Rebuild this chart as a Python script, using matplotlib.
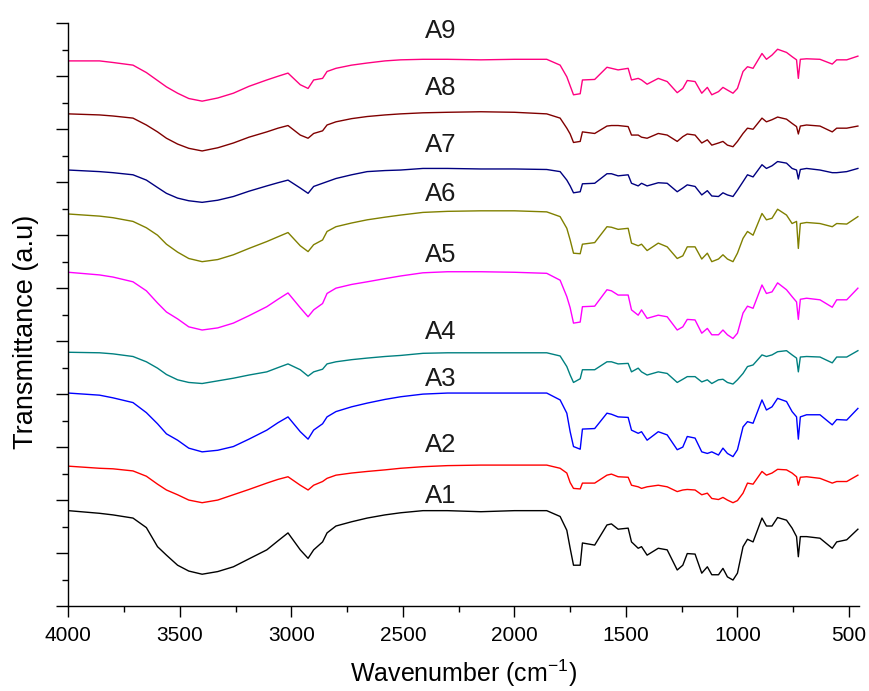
import matplotlib
matplotlib.use("Agg")
import matplotlib.pyplot as plt
from matplotlib.ticker import MultipleLocator

# FTIR spectra of samples A1-A9, stacked with a vertical offset (arbitrary units)
wavenumber = [4000, 3860, 3800, 3710, 3650, 3600, 3560, 3510, 3460, 3400,
              3330, 3260, 3190, 3110, 3060, 3015, 2960, 2925, 2900, 2860,
              2840, 2800, 2730, 2660, 2580, 2510, 2410, 2300, 2150, 2000,
              1855,
              1795, 1765, 1750, 1735, 1705, 1695, 1640, 1585, 1565, 1535,
              1490, 1475, 1445, 1430, 1405, 1355, 1315, 1270, 1245, 1225,
              1190, 1160, 1135, 1115, 1085, 1065, 1045, 1020, 1000, 975,
              955, 930, 890, 870, 845, 820, 780, 755, 735, 727,
              718, 690, 630, 575, 555, 510, 460]

a1 = [1.80, 1.75, 1.72, 1.66, 1.48, 1.12, 0.96, 0.77, 0.66, 0.60,
      0.65, 0.74, 0.89, 1.06, 1.23, 1.38, 1.06, 0.90, 1.06, 1.21,
      1.38, 1.51, 1.59, 1.66, 1.72, 1.76, 1.80, 1.80, 1.78, 1.80,
      1.80,
      1.69, 1.43, 1.09, 0.77, 0.77, 1.19, 1.15, 1.53, 1.55, 1.45,
      1.47, 1.21, 1.09, 1.12, 0.96, 1.09, 1.06, 0.68, 0.77, 0.99,
      0.98, 0.62, 0.74, 0.59, 0.59, 0.71, 0.55, 0.49, 0.62, 1.12,
      1.26, 1.21, 1.66, 1.51, 1.51, 1.67, 1.62, 1.47, 1.31, 0.93,
      1.31, 1.31, 1.28, 1.09, 1.21, 1.25, 1.45]
a2 = [2.64, 2.60, 2.59, 2.55, 2.45, 2.30, 2.19, 2.10, 2.00, 1.95,
      2.00, 2.10, 2.20, 2.32, 2.39, 2.44, 2.28, 2.19, 2.28, 2.35,
      2.41, 2.47, 2.51, 2.54, 2.57, 2.60, 2.63, 2.65, 2.66, 2.66,
      2.66,
      2.60, 2.51, 2.33, 2.22, 2.21, 2.32, 2.32, 2.47, 2.49, 2.44,
      2.43, 2.28, 2.25, 2.22, 2.25, 2.28, 2.25, 2.16, 2.19, 2.20,
      2.19, 2.10, 2.13, 2.03, 2.01, 2.05, 2.00, 1.95, 1.99, 2.13,
      2.32, 2.30, 2.54, 2.47, 2.51, 2.58, 2.57, 2.51, 2.44, 2.28,
      2.43, 2.44, 2.41, 2.32, 2.35, 2.35, 2.47]
a3 = [4.02, 3.98, 3.93, 3.84, 3.65, 3.44, 3.25, 3.13, 2.98, 2.91,
      2.94, 3.01, 3.15, 3.32, 3.46, 3.57, 3.29, 3.15, 3.32, 3.44,
      3.57, 3.67, 3.76, 3.83, 3.90, 3.95, 4.00, 4.02, 4.02, 4.02,
      4.02,
      3.89, 3.64, 3.29, 3.01, 2.96, 3.34, 3.35, 3.64, 3.62, 3.57,
      3.56, 3.32, 3.26, 3.29, 3.13, 3.29, 3.23, 2.95, 3.00, 3.20,
      3.17, 2.91, 2.88, 2.91, 2.85, 2.98, 2.88, 2.82, 2.95, 3.38,
      3.48, 3.45, 3.89, 3.70, 3.76, 3.92, 3.86, 3.67, 3.57, 3.15,
      3.57, 3.61, 3.61, 3.42, 3.52, 3.51, 3.73]
a4 = [4.79, 4.78, 4.76, 4.71, 4.61, 4.49, 4.37, 4.27, 4.22, 4.20,
      4.25, 4.30, 4.36, 4.42, 4.50, 4.57, 4.46, 4.34, 4.42, 4.47,
      4.57, 4.61, 4.65, 4.68, 4.71, 4.73, 4.77, 4.78, 4.78, 4.78,
      4.78,
      4.72, 4.52, 4.36, 4.22, 4.29, 4.46, 4.46, 4.61, 4.61, 4.57,
      4.58, 4.42, 4.49, 4.42, 4.36, 4.42, 4.39, 4.22, 4.28, 4.33,
      4.33, 4.23, 4.27, 4.20, 4.27, 4.28, 4.22, 4.19, 4.27, 4.39,
      4.52, 4.55, 4.74, 4.71, 4.74, 4.80, 4.82, 4.74, 4.68, 4.42,
      4.70, 4.71, 4.70, 4.59, 4.70, 4.70, 4.82]
a5 = [6.30, 6.25, 6.21, 6.12, 5.95, 5.72, 5.55, 5.42, 5.27, 5.21,
      5.25, 5.34, 5.48, 5.65, 5.79, 5.91, 5.63, 5.46, 5.59, 5.71,
      5.90, 6.00, 6.07, 6.12, 6.18, 6.23, 6.29, 6.31, 6.31, 6.30,
      6.28,
      6.15, 5.84, 5.63, 5.34, 5.36, 5.65, 5.66, 5.97, 5.95, 5.87,
      5.87, 5.59, 5.49, 5.59, 5.43, 5.49, 5.46, 5.21, 5.27, 5.41,
      5.40, 5.15, 5.24, 5.12, 5.12, 5.21, 5.12, 5.05, 5.15, 5.53,
      5.66, 5.62, 6.06, 5.90, 5.93, 6.10, 5.97, 5.84, 5.74, 5.41,
      5.79, 5.81, 5.78, 5.64, 5.78, 5.78, 6.00]
a6 = [7.40, 7.36, 7.33, 7.26, 7.14, 7.00, 6.83, 6.68, 6.56, 6.50,
      6.54, 6.63, 6.75, 6.88, 6.97, 7.05, 6.80, 6.69, 6.82, 6.91,
      7.07, 7.16, 7.23, 7.29, 7.34, 7.38, 7.43, 7.45, 7.46, 7.46,
      7.44,
      7.35, 7.13, 6.91, 6.66, 6.65, 6.83, 6.86, 7.16, 7.15, 7.11,
      7.13, 6.85, 6.80, 6.83, 6.71, 6.85, 6.78, 6.56, 6.61, 6.78,
      6.78, 6.55, 6.66, 6.50, 6.55, 6.63, 6.55, 6.50, 6.66, 6.94,
      7.07, 7.00, 7.41, 7.29, 7.32, 7.49, 7.38, 7.22, 7.26, 6.75,
      7.22, 7.24, 7.22, 7.16, 7.22, 7.21, 7.35]
a7 = [8.23, 8.20, 8.18, 8.14, 8.04, 7.90, 7.79, 7.70, 7.65, 7.62,
      7.66, 7.73, 7.83, 7.93, 7.99, 8.04, 7.89, 7.79, 7.92, 7.98,
      8.01, 8.07, 8.14, 8.20, 8.22, 8.23, 8.26, 8.26, 8.25, 8.25,
      8.24,
      8.20, 8.04, 7.93, 7.80, 7.82, 7.97, 7.98, 8.16, 8.16, 8.12,
      8.14, 7.98, 7.93, 7.98, 7.93, 7.99, 7.98, 7.82, 7.89, 7.95,
      7.92, 7.76, 7.84, 7.74, 7.73, 7.80, 7.76, 7.73, 7.85, 8.01,
      8.14, 8.10, 8.33, 8.26, 8.31, 8.39, 8.36, 8.26, 8.23, 8.06,
      8.24, 8.26, 8.23, 8.18, 8.18, 8.20, 8.26]
a8 = [9.29, 9.27, 9.25, 9.21, 9.08, 8.95, 8.83, 8.72, 8.64, 8.59,
      8.65, 8.74, 8.85, 8.95, 9.02, 9.07, 8.89, 8.83, 8.92, 8.97,
      9.08, 9.14, 9.20, 9.24, 9.27, 9.29, 9.31, 9.32, 9.33, 9.32,
      9.29,
      9.21, 9.02, 8.91, 8.75, 8.77, 8.95, 8.92, 9.06, 9.07, 9.07,
      9.05, 8.89, 8.89, 8.85, 8.83, 8.92, 8.89, 8.77, 8.86, 8.91,
      8.89, 8.74, 8.80, 8.70, 8.74, 8.77, 8.70, 8.67, 8.77, 8.92,
      9.02, 9.00, 9.21, 9.14, 9.18, 9.23, 9.19, 9.11, 9.05, 8.91,
      9.06, 9.08, 9.06, 8.95, 9.02, 9.02, 9.06]
a9 = [10.29, 10.29, 10.26, 10.21, 10.07, 9.92, 9.80, 9.68, 9.58, 9.53,
      9.59, 9.68, 9.81, 9.93, 10.00, 10.06, 9.84, 9.77, 9.93, 9.96,
      10.09, 10.15, 10.21, 10.25, 10.29, 10.31, 10.32, 10.32, 10.31, 10.32,
      10.32,
      10.21, 9.99, 9.82, 9.65, 9.67, 9.93, 9.94, 10.17, 10.15, 10.12,
      10.15, 9.93, 9.96, 9.93, 9.85, 9.96, 9.90, 9.69, 9.77, 9.92,
      9.90, 9.68, 9.79, 9.65, 9.71, 9.79, 9.74, 9.68, 9.77, 10.09,
      10.18, 10.15, 10.43, 10.32, 10.40, 10.51, 10.45, 10.37, 10.31, 9.96,
      10.32, 10.33, 10.32, 10.23, 10.31, 10.31, 10.38]

names = ['A1', 'A2', 'A3', 'A4', 'A5', 'A6', 'A7', 'A8', 'A9']
colors = ['#000000', '#FF0000', '#0000FF', '#008080', '#FF00FF',
          '#808000', '#000080', '#800000', '#FF0080']
label_x = 2330
label_y = [1.95, 2.91, 4.16, 5.04, 6.50, 7.64, 8.57, 9.64, 10.72]

x_ticks = [4000, 3500, 3000, 2500, 2000, 1500, 1000, 500]


def plot_spectra():
    plt.rcParams['font.family'] = ['Liberation Sans', 'DejaVu Sans']
    plt.rcParams['mathtext.fontset'] = 'custom'
    plt.rcParams['mathtext.rm'] = 'Liberation Sans'
    plt.rcParams['mathtext.it'] = 'Liberation Sans:italic'

    fig = plt.figure(figsize=(8.69, 6.91), dpi=100)
    ax = fig.add_axes([0.0786, 0.1230, 0.9099, 0.8433])

    series = [a1, a2, a3, a4, a5, a6, a7, a8, a9]
    for values, color in zip(series, colors):
        ax.plot(wavenumber, values, color=color, linewidth=1.0)

    for name, y in zip(names, label_y):
        ax.text(label_x, y, name, fontsize=18.5, ha='center', va='baseline',
                color='#1a1a1a')

    ax.set_xlim(4000, 455)
    ax.set_ylim(0, 11)

    ax.set_xticks(x_ticks)
    ax.set_xticklabels([str(t) for t in x_ticks])
    ax.xaxis.set_minor_locator(MultipleLocator(250))
    ax.yaxis.set_major_locator(MultipleLocator(1))
    ax.yaxis.set_minor_locator(MultipleLocator(0.5))
    ax.set_yticklabels([])

    ax.tick_params(axis='x', which='major', direction='out', length=7.7,
                   width=1.0, labelsize=15, pad=7)
    ax.tick_params(axis='x', which='minor', direction='out', length=4.6,
                   width=1.0)
    ax.tick_params(axis='y', which='major', direction='out', length=8.8,
                   width=1.0)
    ax.tick_params(axis='y', which='minor', direction='out', length=4.0,
                   width=1.0)

    for side in ['top', 'right']:
        ax.spines[side].set_visible(False)
    for side in ['left', 'bottom']:
        ax.spines[side].set_linewidth(1.0)

    ax.set_xlabel('Wavenumber (cm$^{-1}$)', fontsize=18)
    ax.xaxis.set_label_coords(0.5, -0.089)
    ax.set_ylabel('Transmittance (a.u)', fontsize=19.5)
    ax.yaxis.label.set_va('center')
    ax.yaxis.set_label_coords(-0.0536, 0.471)

    fig.savefig('out.png', dpi=100)
    plt.close(fig)


plot_spectra()
